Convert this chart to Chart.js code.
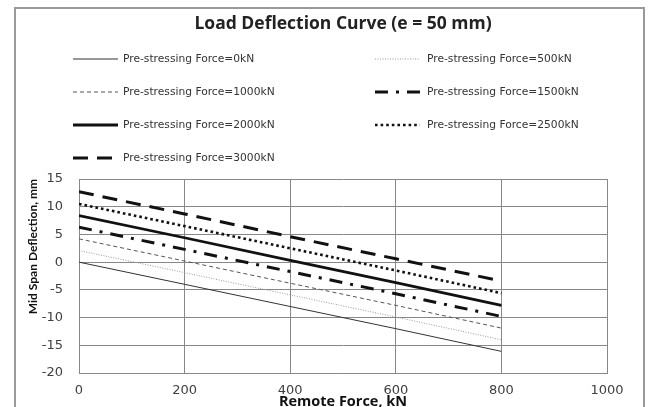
<!DOCTYPE html>
<html lang="en">
<head>
    <meta charset="UTF-8">
    <title>Load Deflection Curve</title>
    <script src="https://cdn.jsdelivr.net/npm/chart.js"></script>
    <style>
        body {
            margin: 0;
            background: #fff;
        }
        .wrap {
            position: relative;
            width: 648px;
            height: 407px;
            overflow: hidden;
        }
        .frame {
            position: absolute;
            left: 14px;
            top: 7px;
            width: 631px;
            height: 420px;
            border: 2px solid #9a9a9a;
            box-sizing: border-box;
        }
        canvas {
            position: absolute;
            left: 0;
            top: 0;
        }
    </style>
</head>
<body>
    <div class="wrap">
        <div class="frame"></div>
        <canvas id="chart" width="648" height="407"></canvas>
    </div>

    <script>
        // Remote force (kN) at which each curve is read
        const remoteForce = [0, 200, 400, 600, 800];

        const seriesNames = [
            'Pre-stressing Force=0kN',
            'Pre-stressing Force=500kN',
            'Pre-stressing Force=1000kN',
            'Pre-stressing Force=1500kN',
            'Pre-stressing Force=2000kN',
            'Pre-stressing Force=2500kN',
            'Pre-stressing Force=3000kN'
        ];

        // mid span deflection (mm)
        const defl0 = [0, -4, -8, -12, -16.1];
        const defl500 = [2.1, -1.9, -5.9, -9.9, -14];
        const defl1000 = [4.2, 0.2, -3.8, -7.8, -11.9];
        const defl1500 = [6.3, 2.3, -1.7, -5.7, -9.8];
        const defl2000 = [8.4, 4.4, 0.3, -3.7, -7.8];
        const defl2500 = [10.5, 6.5, 2.5, -1.5, -5.6];
        const defl3000 = [12.7, 8.7, 4.6, 0.6, -3.4];

        const xTicks = [0, 200, 400, 600, 800, 1000];
        const yTicks = [-20, -15, -10, -5, 0, 5, 10, 15];

        const allValues = [defl0, defl500, defl1000, defl1500, defl2000, defl2500, defl3000];
        const styles = [
            { color: '#333', width: 1, dash: [] },
            { color: '#999', width: 1, dash: [1, 1.5] },
            { color: '#555', width: 1, dash: [4, 3] },
            { color: '#111', width: 3, dash: [13, 8, 3, 8] },
            { color: '#111', width: 2.8, dash: [] },
            { color: '#111', width: 2.6, dash: [2.6, 3] },
            { color: '#111', width: 3, dash: [15, 9] }
        ];

        const datasets = allValues.map((vals, i) => ({
            label: seriesNames[i],
            data: vals.map((v, j) => ({ x: remoteForce[j], y: v })),
            borderColor: styles[i].color,
            borderWidth: styles[i].width,
            borderDash: styles[i].dash,
            pointRadius: 0,
            fill: false,
            tension: 0
        }));

        // two-column legend like the spreadsheet one
        const legendLines = {
            id: 'legendLines',
            afterDraw(chart) {
                const ctx = chart.ctx;
                const lineX = [73, 375];
                const textX = [123, 427];
                chart.data.datasets.forEach((ds, i) => {
                    const col = i % 2;
                    const row = Math.floor(i / 2);
                    const y = 59 + row * 33;
                    ctx.save();
                    ctx.strokeStyle = ds.borderColor;
                    ctx.lineWidth = ds.borderWidth;
                    ctx.setLineDash(ds.borderDash);
                    ctx.beginPath();
                    ctx.moveTo(lineX[col], y);
                    ctx.lineTo(lineX[col] + 45, y);
                    ctx.stroke();
                    ctx.setLineDash([]);
                    ctx.fillStyle = '#333';
                    ctx.font = '10.7px "DejaVu Sans"';
                    ctx.textBaseline = 'middle';
                    ctx.fillText(ds.label, textX[col], y);
                    ctx.restore();
                });
            }
        };

        new Chart(document.getElementById('chart'), {
            type: 'line',
            data: { datasets: datasets },
            plugins: [legendLines],
            options: {
                responsive: false,
                animation: false,
                layout: { padding: { left: 10, right: 41, top: 0, bottom: 0 } },
                plugins: {
                    legend: { display: false },
                    tooltip: { enabled: false },
                    title: {
                        display: true,
                        fullSize: false,
                        text: 'Load Deflection Curve (e = 50 mm)',
                        color: '#222',
                        font: { family: 'Open Sans', size: 17.5, weight: 'bold' },
                        padding: { top: 14, bottom: 144 }
                    }
                },
                scales: {
                    x: {
                        type: 'linear',
                        min: 0,
                        max: 1000,
                        afterBuildTicks: s => { s.ticks = xTicks.map(v => ({ value: v })); },
                        afterFit: s => { s.height = 34; },
                        grid: { color: '#888', drawTicks: false },
                        border: { color: '#888' },
                        ticks: {
                            color: '#404040',
                            padding: 10,
                            font: { family: 'DejaVu Sans', size: 13 },
                            callback: v => String(v)
                        },
                        title: {
                            display: true,
                            text: 'Remote Force, kN',
                            color: '#111',
                            font: { family: 'Open Sans', size: 14.5, weight: 'bold' },
                            padding: { top: 0, bottom: -4 }
                        }
                    },
                    y: {
                        min: -20,
                        max: 15,
                        afterBuildTicks: s => { s.ticks = yTicks.map(v => ({ value: v })); },
                        afterFit: s => { s.width = 69; },
                        grid: { color: '#888', drawTicks: false },
                        border: { color: '#888' },
                        ticks: {
                            color: '#404040',
                            padding: 16,
                            font: { family: 'DejaVu Sans', size: 13 },
                            callback: v => String(v)
                        },
                        title: {
                            display: true,
                            align: 'end',
                            text: 'Mid Span Deflection, mm',
                            color: '#111',
                            font: { family: 'Lato', size: 12, weight: 'bold' },
                            padding: { top: 16, bottom: 0 }
                        }
                    }
                }
            }
        });
    </script>
</body>
</html>
